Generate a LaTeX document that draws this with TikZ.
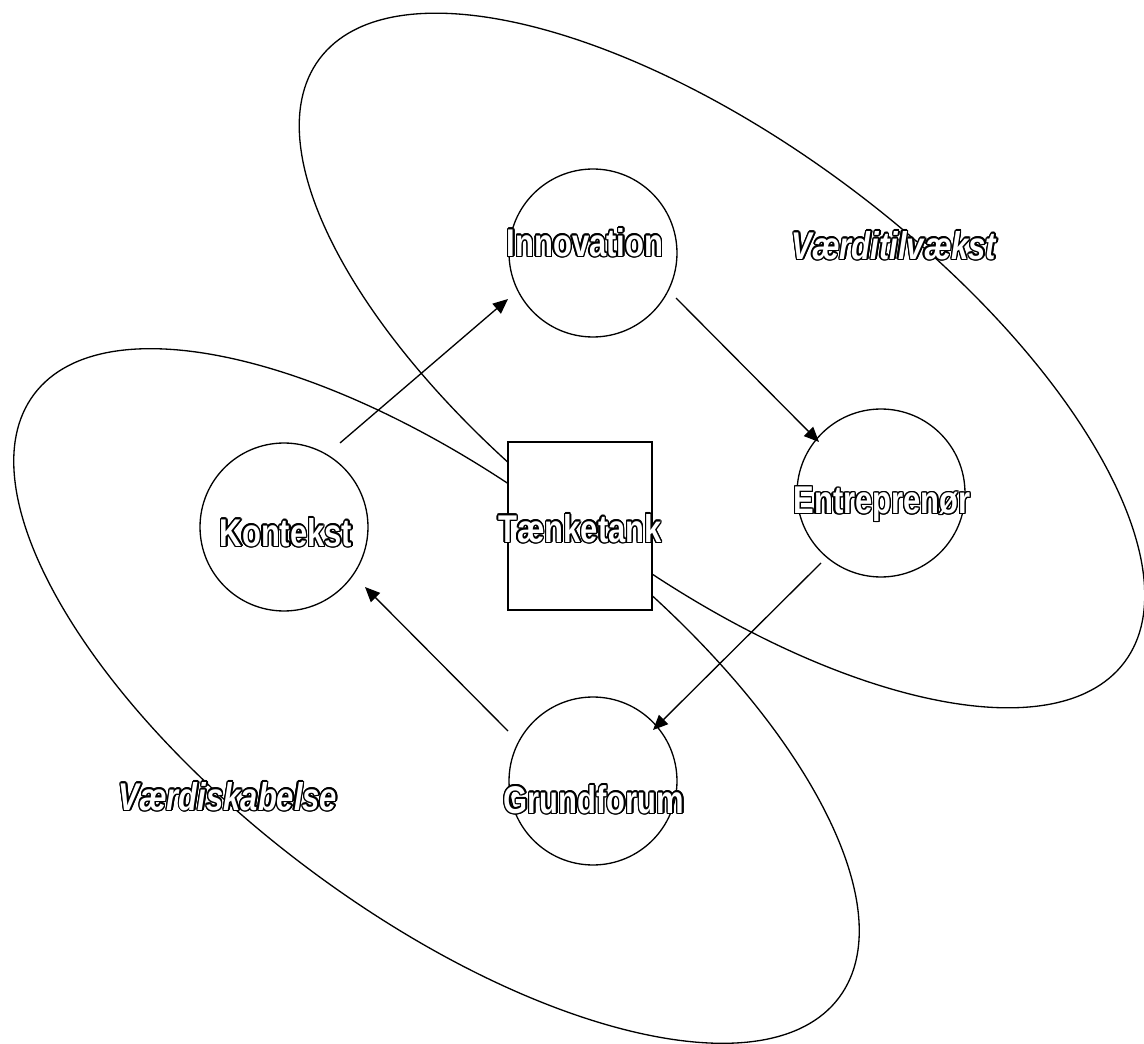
\documentclass[tikz,border=0pt]{standalone}
\usepackage{fontspec}
\usepackage{contour}
\newfontfamily\lblfont{Liberation Sans}[FakeStretch=0.8]
\contourlength{0.8pt}
\usetikzlibrary{arrows.meta}
\newcommand{\outl}[1]{\contour{black}{#1}}% hollow lettering: black rim, white inside

\begin{document}
\begin{tikzpicture}[x=0.02cm,y=-0.02cm,
  ring/.style={draw, line width=0.75pt, circle, minimum size=3.36cm, inner sep=0pt},
  tankbox/.style={draw, line width=0.75pt, fill=white, minimum width=2.88cm, minimum height=3.36cm, inner sep=0pt},
  lbl/.style={text=white, font=\lblfont\bfseries\fontsize{22}{26}\selectfont, inner sep=0pt},
  areatxt/.style={lbl, font=\lblfont\bfseries\itshape\fontsize{22}{26}\selectfont},
  flow/.style={-{Triangle[length=0.3cm,width=0.26cm]}, line width=0.75pt}]
  \useasboundingbox (0,0) rectangle (1144,1044);
  % the two value areas
  \draw[line width=0.75pt, rotate around={-36.85:(722,360.5)}] (722,360.5) ellipse (503 and 215);
  \draw[line width=0.75pt, rotate around={-36.85:(436.5,696)}] (436.5,696) ellipse (503 and 215);
  \node[tankbox] (tank) at (580,526) {};
  \node[ring] (innovation) at (593,253) {};
  \node[ring] (entrepreneur) at (881,493) {};
  \node[ring] (grundforum) at (593,781) {};
  \node[ring] (kontekst) at (284,527) {};
  % arrow ends, off the centre lines as in the drawing
  \coordinate (kout) at (340,443);  \coordinate (iin) at (508,299);
  \coordinate (iout) at (676,298);  \coordinate (ein) at (819,442);
  \coordinate (eout) at (821,563);  \coordinate (gin) at (653,730);
  \coordinate (gout) at (508,731);  \coordinate (kin) at (365,587);
  \draw[flow] (kout) -- (iin);
  \draw[flow] (iout) -- (ein);
  \draw[flow] (eout) -- (gin);
  \draw[flow] (gout) -- (kin);
  \node[lbl] (tanktxt) at (580,529) {\outl{Tænketank}};
  \node[lbl] (innovationtxt) at (585,243) {\outl{Innovation}};
  \node[lbl] (entrepreneurtxt) at (882,505) {\outl{Entreprenør}};
  \node[lbl] (grundforumtxt) at (594,800) {\outl{Grundforum}};
  \node[lbl] (kontekstxt) at (286,533) {\outl{Kontekst}};
  \node[areatxt] (tilvaekst) at (894,246) {\outl{Værditilvækst}};
  \node[areatxt] (skabelse) at (228,797) {\outl{Værdiskabelse}};
\end{tikzpicture}
\end{document}
